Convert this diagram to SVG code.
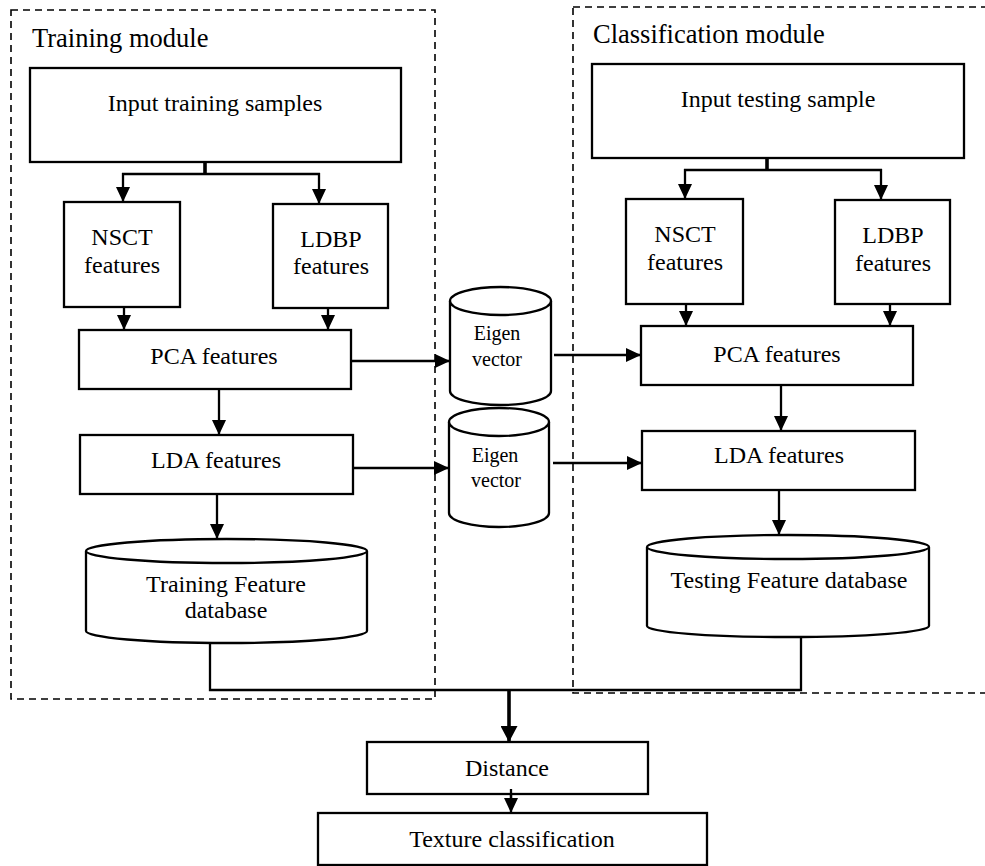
<svg xmlns="http://www.w3.org/2000/svg" width="985" height="866" viewBox="0 0 985 866">
<style>
  .box{fill:#fff;stroke:#000;stroke-width:2.3}
  .dash{fill:none;stroke:#000;stroke-width:1.6;stroke-dasharray:7 5}
  .ln{fill:none;stroke:#000;stroke-width:2.3}
  .thick{fill:none;stroke:#000;stroke-width:3.6}
  .arr{marker-end:url(#ah)}
  .arrB{marker-end:url(#ahB)}
  text{font-family:"Liberation Serif","Times New Roman",serif;fill:#000;font-size:24px;text-anchor:middle}
  .title{font-size:26.5px;text-anchor:start}
  .small{font-size:20px}
</style>
<defs>
  <marker id="ah" markerUnits="userSpaceOnUse" markerWidth="15" markerHeight="14" refX="15" refY="7" orient="auto">
    <path d="M0,0 L15,7 L0,14 z" fill="#000"/>
  </marker>
  <marker id="ahB" markerUnits="userSpaceOnUse" markerWidth="16" markerHeight="17" refX="16" refY="8.5" orient="auto">
    <path d="M0,0 L16,8.5 L0,17 z" fill="#000"/>
  </marker>
</defs>
<rect width="985" height="866" fill="#fff"/>

<g id="training-module">
  <rect class="dash" x="11" y="10" width="424" height="689"/>
  <text class="title" x="32" y="47">Training module</text>
</g>
<g id="classification-module">
  <rect class="dash" x="573" y="7" width="440" height="686"/>
  <text class="title" x="593" y="43">Classification module</text>
</g>

<g id="connectors">
  <line class="thick" x1="205" y1="162" x2="205" y2="175"/>
  <line class="ln" x1="122" y1="174" x2="320" y2="174"/>
  <line class="ln arr" x1="123" y1="173" x2="123" y2="202"/>
  <line class="ln arr" x1="319" y1="173" x2="319" y2="204"/>
  <line class="ln arr" x1="124" y1="307" x2="124" y2="330"/>
  <line class="ln arr" x1="328" y1="308" x2="328" y2="330"/>
  <line class="ln arr" x1="219" y1="389" x2="219" y2="435"/>
  <line class="ln arr" x1="217" y1="494" x2="217" y2="539"/>
  <line class="ln arr" x1="351" y1="361" x2="450" y2="361"/>
  <line class="ln arr" x1="351" y1="468" x2="449" y2="468"/>
  <line class="ln arr" x1="554" y1="355" x2="641" y2="355"/>
  <line class="ln arr" x1="553" y1="463" x2="642" y2="463"/>
  <line class="thick" x1="767" y1="158" x2="767" y2="171"/>
  <line class="ln" x1="684" y1="170" x2="882" y2="170"/>
  <line class="ln arr" x1="685" y1="169" x2="685" y2="199"/>
  <line class="ln arr" x1="881" y1="169" x2="881" y2="200"/>
  <line class="ln arr" x1="686" y1="304" x2="686" y2="326"/>
  <line class="ln arr" x1="890" y1="304" x2="890" y2="326"/>
  <line class="ln arr" x1="781" y1="385" x2="781" y2="431"/>
  <line class="ln arr" x1="779" y1="490" x2="779" y2="535"/>
  <path class="ln" d="M210,643 V690 H801 V637"/>
  <line class="thick arrB" x1="509" y1="690" x2="509" y2="742"/>
  <line class="ln arr" x1="511" y1="789" x2="511" y2="813"/>
</g>

<g id="input-training">
  <rect class="box" x="30" y="68" width="371" height="94"/>
  <text x="215" y="111">Input training samples</text>
</g>
<g id="nsct-train">
  <rect class="box" x="64" y="202" width="116" height="105"/>
  <text x="122" y="245">NSCT</text>
  <text x="122" y="273">features</text>
</g>
<g id="ldbp-train">
  <rect class="box" x="273" y="204" width="115" height="104"/>
  <text x="331" y="247">LDBP</text>
  <text x="331" y="274">features</text>
</g>
<g id="pca-train">
  <rect class="box" x="79" y="330" width="272" height="59"/>
  <text x="214" y="364">PCA features</text>
</g>
<g id="lda-train">
  <rect class="box" x="80" y="435" width="273" height="59"/>
  <text x="216" y="468">LDA features</text>
</g>
<g id="training-db">
  <path class="box" d="M86,551 V631 A140.5,12 0 0 0 367,631 V551"/>
  <ellipse class="box" cx="226.5" cy="551" rx="140.5" ry="12"/>
  <text x="226" y="592">Training Feature</text>
  <text x="226" y="618">database</text>
</g>

<g id="eigen-1">
  <path class="box" d="M450,301 V391 A50.5,14 0 0 0 551,391 V301"/>
  <ellipse class="box" cx="500.5" cy="301" rx="50.5" ry="14"/>
  <text class="small" x="497" y="340">Eigen</text>
  <text class="small" x="497" y="366">vector</text>
</g>
<g id="eigen-2">
  <path class="box" d="M449,422 V513 A50,14 0 0 0 549,513 V422"/>
  <ellipse class="box" cx="499" cy="422" rx="50" ry="14"/>
  <text class="small" x="495" y="462">Eigen</text>
  <text class="small" x="496" y="487">vector</text>
</g>

<g id="input-testing">
  <rect class="box" x="592" y="64" width="372" height="94"/>
  <text x="778" y="107">Input testing sample</text>
</g>
<g id="nsct-test">
  <rect class="box" x="626" y="199" width="117" height="105"/>
  <text x="685" y="242">NSCT</text>
  <text x="685" y="270">features</text>
</g>
<g id="ldbp-test">
  <rect class="box" x="835" y="200" width="115" height="104"/>
  <text x="893" y="243">LDBP</text>
  <text x="893" y="271">features</text>
</g>
<g id="pca-test">
  <rect class="box" x="641" y="326" width="272" height="59"/>
  <text x="777" y="362">PCA features</text>
</g>
<g id="lda-test">
  <rect class="box" x="642" y="431" width="273" height="59"/>
  <text x="779" y="463">LDA features</text>
</g>
<g id="testing-db">
  <path class="box" d="M647,547 V626 A141,11 0 0 0 929,626 V547"/>
  <ellipse class="box" cx="788" cy="547" rx="141" ry="12"/>
  <text x="789" y="588">Testing Feature database</text>
</g>

<g id="distance">
  <rect class="box" x="367" y="742" width="281" height="52"/>
  <text x="507" y="776">Distance</text>
</g>
<line class="ln" x1="511" y1="789" x2="511" y2="800"/>
<g id="texture-classification">
  <rect class="box" x="318" y="813" width="389" height="52"/>
  <text x="512" y="847">Texture classification</text>
</g>
</svg>
